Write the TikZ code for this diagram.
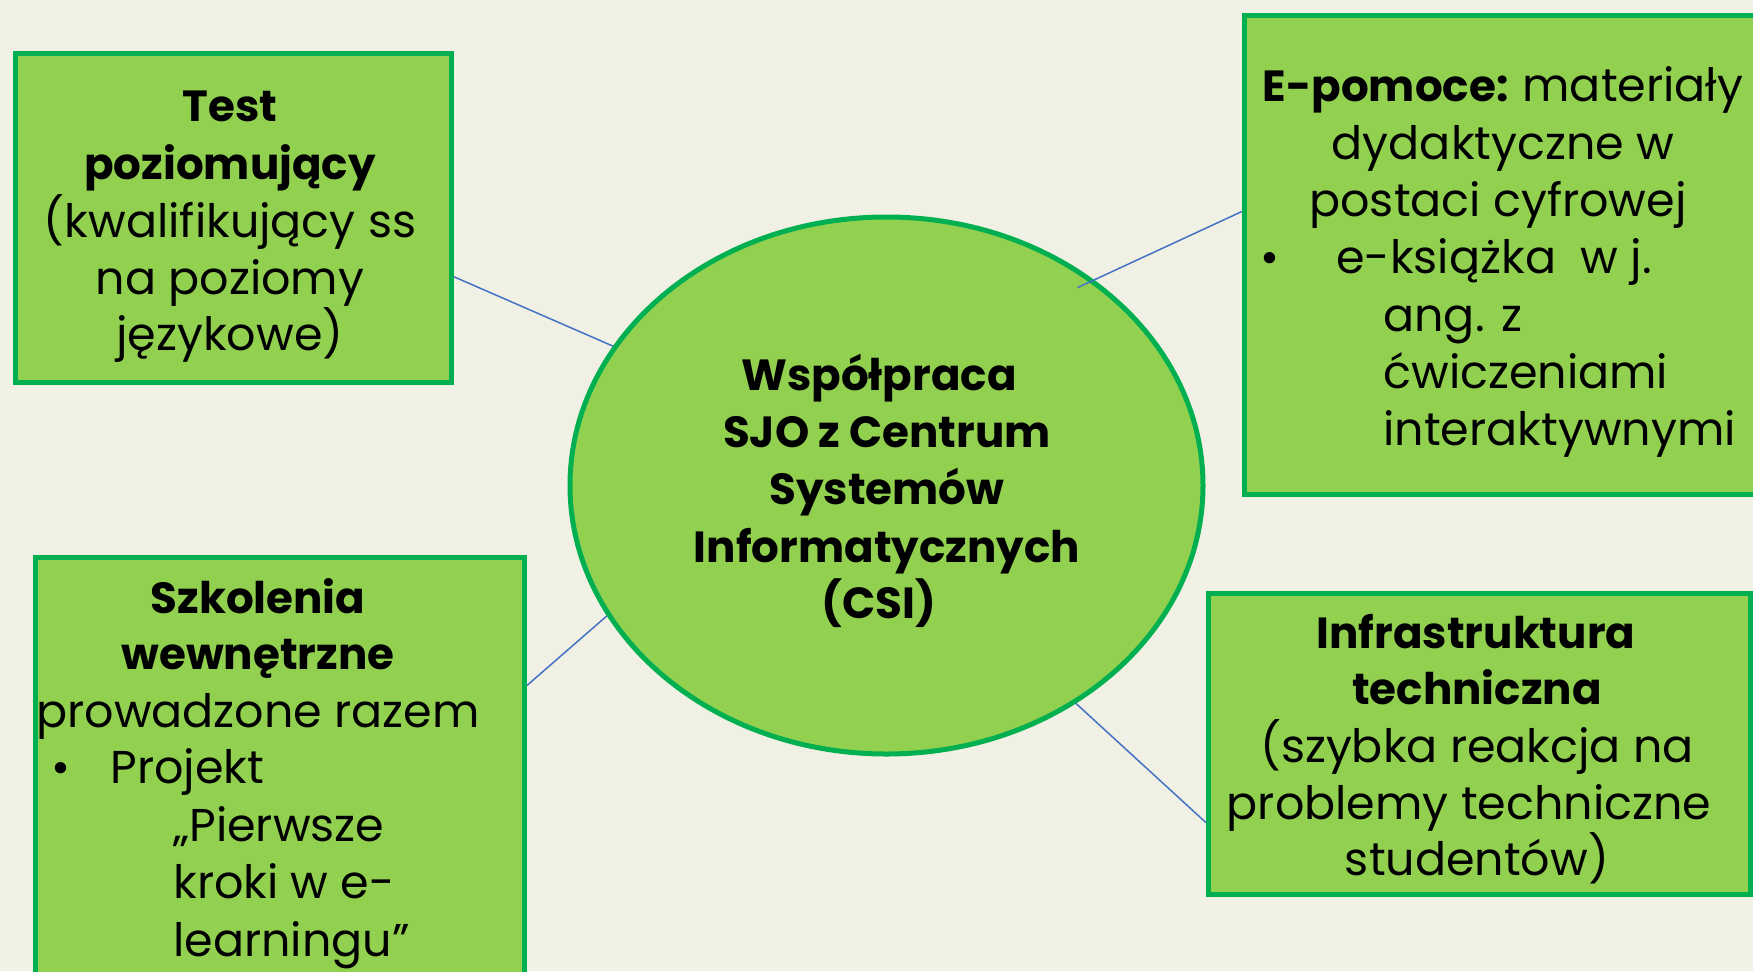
\documentclass[tikz,border=0pt]{standalone}
\usepackage{fontspec}
\setmainfont{Poppins}
\usetikzlibrary{shapes.geometric,calc}
\definecolor{bg}{RGB}{241,240,228}
\definecolor{fillgreen}{RGB}{146,208,80}
\definecolor{bordergreen}{RGB}{0,176,80}
\definecolor{linkblue}{RGB}{68,114,196}
\newcommand{\bsz}{\fontsize{21.8}{29}\selectfont\bfseries}
\tikzset{
  box/.style={draw=bordergreen, fill=fillgreen, line width=2.5pt, rectangle, inner sep=0pt, anchor=north west},
  txt/.style={anchor=base, inner sep=0pt, font=\fontsize{23}{29}\selectfont},
  txtl/.style={txt, anchor=base west},
  link/.style={draw=linkblue, line width=0.75pt}
}
\begin{document}
\begin{tikzpicture}[x=0.5pt,y=-0.5pt]
\useasboundingbox (0,0) rectangle (1753,971);
\fill[bg] (0,0) rectangle (1753,971);

% boxes
\node[box, minimum width=218pt, minimum height=164.5pt] (tl) at (13,51) {};
\node[box, minimum width=273pt, minimum height=239.5pt] (tr) at (1242,13) {};
\node[box, minimum width=244.5pt, minimum height=227.5pt] (bl) at (33,555) {};
\node[box, minimum width=271pt, minimum height=150.5pt] (br) at (1206,591) {};
\node[ellipse, draw=bordergreen, fill=fillgreen, line width=2.5pt, inner sep=0pt,
      minimum width=316.5pt, minimum height=268.5pt] (csi) at (886.5,485.5) {};

% connectors
\draw[link] ($(tl.north east)!0.676!(tl.south east)$) -- (csi.153.6);
\draw[link] ($(tr.north west)!0.41!(tr.south west)$) -- ($(csi.center)!0.945!(csi.46.3)$);
\draw[link] ($(bl.north east)!0.2835!(bl.south east)$) -- (csi.205.3);
\draw[link] ($(br.north west)!0.757!(br.south west)$) -- (csi.-49.6);

% top-left text
\node[txt] (tl1) at (230,121) {\bsz Test};
\node[txt] (tl2) at (230,179) {\bsz poziomujący};
\node[txt] (tl3) at (230,237) {(kwalifikujący ss};
\node[txt] (tl4) at (230,294) {na poziomy};
\node[txt] (tl5) at (230,350) {językowe)};

% centre text
\node[txt] (c1) at (879,390) {\bsz Współpraca};
\node[txt] (c2) at (887,447) {\bsz SJO z Centrum};
\node[txt] (c3) at (887,504) {\bsz Systemów};
\node[txt] (c4) at (887,562) {\bsz Informatycznych};
\node[txt] (c5) at (879,618) {\bsz (CSI)};

% top-right text
\node[txt] (tr1) at (1503,101) {{\bsz E-pomoce:}\hspace{7pt}materiały};
\node[txt] (tr2) at (1503,159) {dydaktyczne w};
\node[txt] (tr3) at (1498,216) {postaci cyfrowej};
\node[txt] (tr4b) at (1270,273) {•};
\node[txtl] (tr4) at (1336,273) {e-książka\ \ w j.};
\node[txtl] (tr5) at (1383,331) {ang. z};
\node[txtl] (tr6) at (1383,388) {ćwiczeniami};
\node[txtl] (tr7) at (1383,445) {interaktywnymi};

% bottom-left text
\node[txt] (bl1) at (258,613) {\bsz Szkolenia};
\node[txt] (bl2) at (258,669) {\bsz wewnętrzne};
\node[txt] (bl3) at (258,727) {prowadzone razem};
\node[txt] (bl4b) at (61,783) {•};
\node[txtl] (bl4) at (110,783) {Projekt};
\node[txtl] (bl5) at (173,841) {„Pierwsze};
\node[txtl] (bl6) at (173,898) {kroki w e-};
\node[txtl] (bl7) at (173,956) {learningu”};

% bottom-right text
\node[txt] (br1) at (1476,648) {\bsz Infrastruktura};
\node[txt] (br2) at (1477,704) {\bsz techniczna};
\node[txt] (br3) at (1477,762) {(szybka reakcja na};
\node[txt] (br4) at (1469,819) {problemy techniczne};
\node[txt] (br5) at (1477,875) {studentów)};
\end{tikzpicture}
\end{document}
